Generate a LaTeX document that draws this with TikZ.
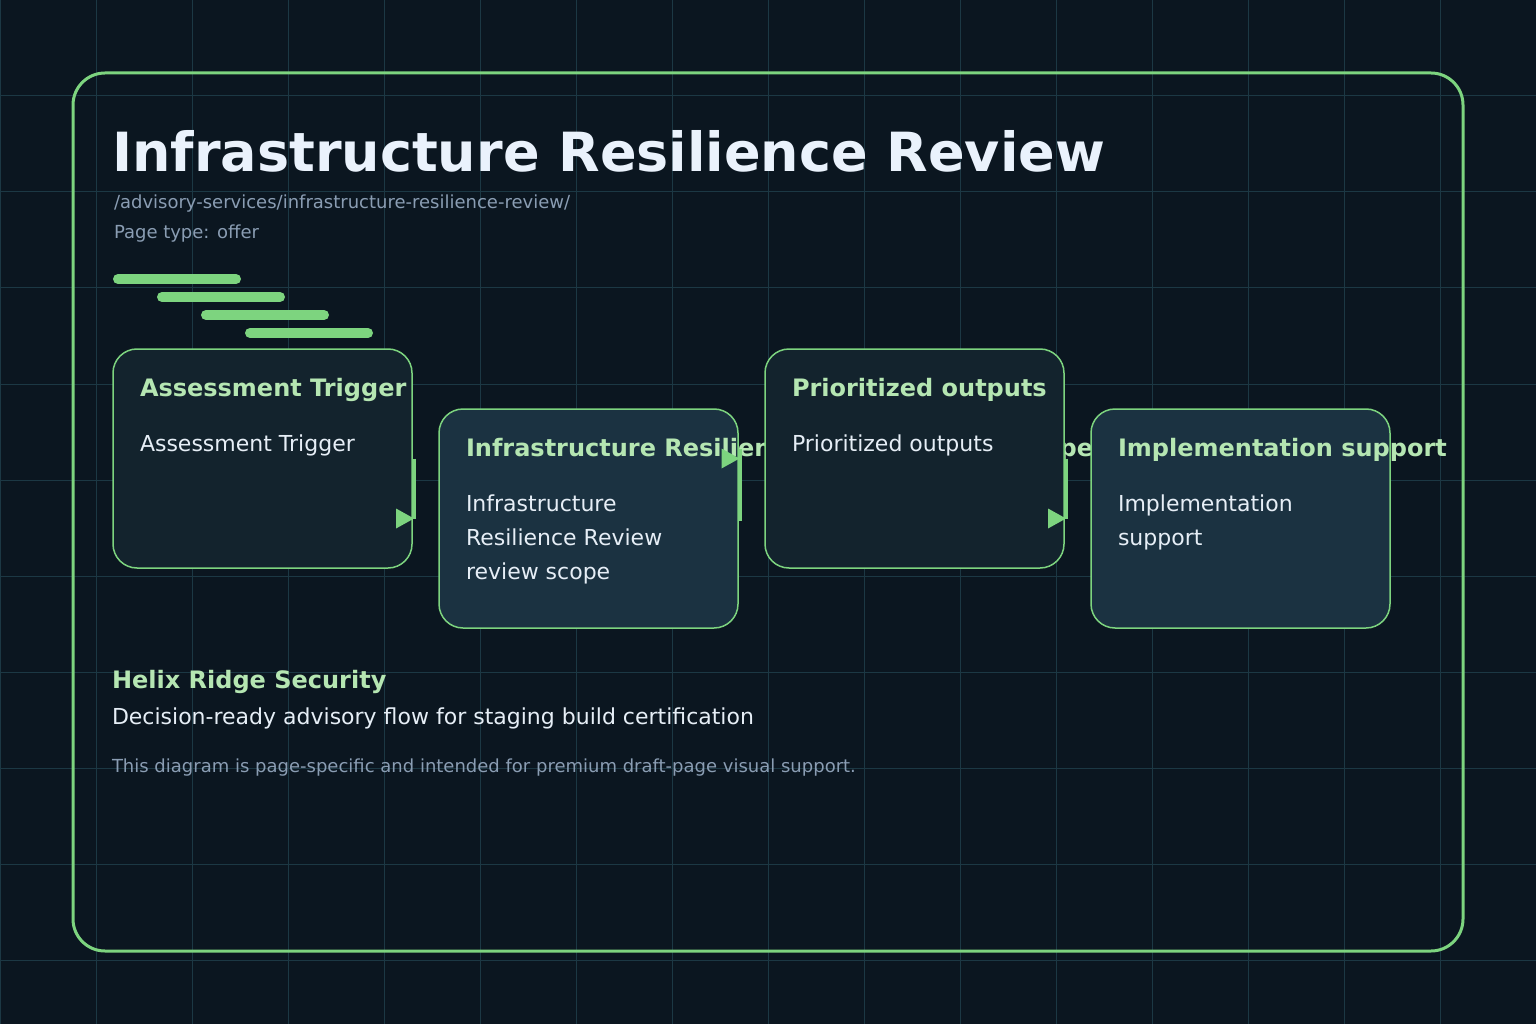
\documentclass[tikz,border=0pt]{standalone}
\usepackage{fontspec}
\setmainfont{DejaVu Sans}
\definecolor{bg}{HTML}{0B1620}
\definecolor{gridc}{HTML}{1C3844}
\definecolor{accent}{HTML}{7DD47F}
\definecolor{boxdarkc}{HTML}{13232D}
\definecolor{boxlightc}{HTML}{1B3241}
\definecolor{titlec}{HTML}{EAF2FC}
\definecolor{mutedc}{HTML}{8A9DB3}
\definecolor{headc}{HTML}{B5E6B2}
\definecolor{bodyc}{HTML}{E6EEF6}
\tikzset{
  gridline/.style={draw=gridc, line width=1pt},
  frame/.style={draw=accent, line width=3pt, rounded corners=32pt},
  card/.style={draw=accent, line width=1.5pt, rounded corners=24pt, minimum width=299pt, minimum height=219pt, anchor=north west, inner sep=0pt, outer sep=0pt},
  carddark/.style={card, fill=boxdarkc},
  cardlight/.style={card, fill=boxlightc},
  txt/.style={anchor=base west, inner sep=0pt, outer sep=0pt},
  cardhead/.style={txt, text=headc, font=\fontsize{24}{28}\selectfont\bfseries},
  cardbody/.style={txt, text=bodyc, font=\fontsize{22}{26}\selectfont},
  muted/.style={txt, text=mutedc, font=\fontsize{18}{22}\selectfont},
  conn/.style={draw=accent, line width=4pt},
  tipfill/.style={fill=accent},
  bar/.style={draw=accent, line width=10pt, line cap=round}
}
\begin{document}
\begin{tikzpicture}[x=1pt,y=-1pt]
\useasboundingbox (0,0) rectangle (1536,1024);
\fill[bg] (0,0) rectangle (1536,1024);
\foreach \i in {0,...,16} \draw[gridline] (\i*96,0) -- (\i*96,1024);
\foreach \j in {0,...,10} \draw[gridline] (0,\j*96) -- (1536,\j*96);
\draw[frame] (73,73) rectangle (1463,951);

\node[txt, text=titlec, font=\fontsize{54}{60}\selectfont\bfseries] (title) at (112,172) {Infrastructure Resilience Review};
\node[muted] (path) at (114,209) {/advisory-services/infrastructure-resilience-review/};
\node[muted] (ptype) at (114,239) {Page type: offer};

\draw[bar] (118,279) -- (236,279);
\draw[bar] (162,297) -- (280,297);
\draw[bar] (206,315) -- (324,315);
\draw[bar] (250,333) -- (368,333);

\node[carddark] (b1) at (113,349) {};
\node[cardhead] (h1) at (140,396) {Assessment Trigger};
\node[cardbody] (p1) at (140,451) {Assessment Trigger};

\node[cardlight] (b2) at (439,409) {};
\node[cardhead] (h2) at (466,456) {Infrastructure Resilience Review review scope};
\node[cardbody] (p2a) at (466,511) {Infrastructure};
\node[cardbody] (p2b) at (466,545) {Resilience Review};
\node[cardbody] (p2c) at (466,579) {review scope};

\node[carddark] (b3) at (765,349) {};
\node[cardhead] (h3) at (792,396) {Prioritized outputs};
\node[cardbody] (p3) at (792,451) {Prioritized outputs};

\node[cardlight] (b4) at (1091,409) {};
\node[cardhead] (h4) at (1118,456) {Implementation support};
\node[cardbody] (p4a) at (1118,511) {Implementation};
\node[cardbody] (p4b) at (1118,545) {support};

% connectors
\coordinate (c1s) at ([xshift=2pt]b1.east);
\coordinate (c1e) at (c1s |- b2.west);
\draw[conn] (c1s) -- (c1e);
\fill[tipfill] (c1e) -- ++(-18,-10) -- ++(0,20) -- cycle;

\coordinate (c2s) at ([xshift=1.5pt]b2.east);
\coordinate (c2e) at (c2s |- b3.west);
\draw[conn] ([yshift=-2pt]c2s) -- ([yshift=10pt]c2e);
\fill[tipfill] (c2e) -- ++(-18,-10) -- ++(0,20) -- cycle;

\coordinate (c3s) at ([xshift=2pt]b3.east);
\coordinate (c3e) at (c3s |- b4.west);
\draw[conn] (c3s) -- (c3e);
\fill[tipfill] (c3e) -- ++(-18,-10) -- ++(0,20) -- cycle;

\node[txt, text=headc, font=\fontsize{24}{28}\selectfont\bfseries] (org) at (112,688) {Helix Ridge Security};
\node[txt, text=bodyc, font=\fontsize{22}{26}\selectfont] (tag) at (112,724) {Decision-ready advisory flow for staging build certification};
\node[txt, text=mutedc, font=\fontsize{18}{21}\selectfont] (foot) at (112,772) {This diagram is page-specific and intended for premium draft-page visual support.};
\end{tikzpicture}
\end{document}
